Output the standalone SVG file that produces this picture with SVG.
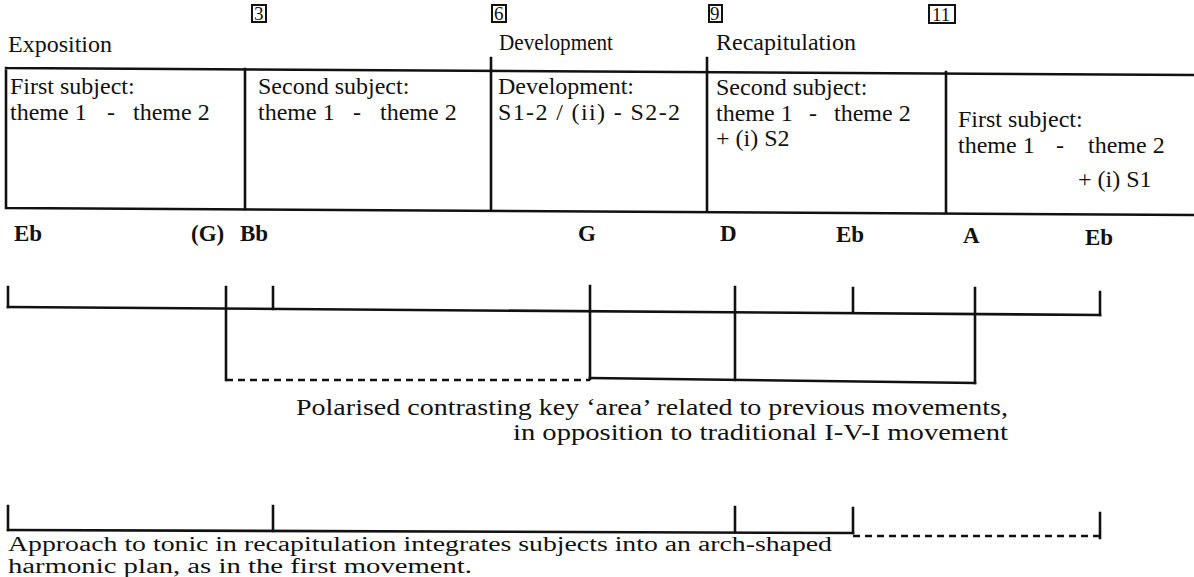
<svg xmlns="http://www.w3.org/2000/svg" width="1194" height="577" viewBox="0 0 1194 577">
  <style>
    .t { font-family: "Liberation Serif", "Times New Roman", serif; font-size: 24px; fill: #111; }
    .h { font-family: "Liberation Serif", "Times New Roman", serif; font-size: 24px; fill: #111; }
    .k { font-family: "Liberation Serif", "Times New Roman", serif; font-size: 23px; font-weight: bold; fill: #111; }
    .n { font-family: "Liberation Serif", "Times New Roman", serif; font-size: 19px; fill: #111; }
    .c { font-family: "Liberation Serif", "Times New Roman", serif; font-size: 23px; fill: #111; }
    .c2 { font-family: "Liberation Serif", "Times New Roman", serif; font-size: 20px; fill: #111; }
    .ln { stroke: #111; stroke-width: 2.6; fill: none; stroke-linecap: square; }
    .dash { stroke: #111; stroke-width: 2.6; fill: none; stroke-dasharray: 7 5; }
    .nb { stroke: #111; stroke-width: 2; fill: none; }
  </style>

  <!-- bar numbers -->
  <g id="bar-numbers">
    <rect class="nb" x="252" y="5" width="14" height="17"/>
    <text class="n" x="254" y="20">3</text>
    <rect class="nb" x="492" y="5" width="14" height="17"/>
    <text class="n" x="494" y="20">6</text>
    <rect class="nb" x="709" y="5" width="13" height="17"/>
    <text class="n" x="710" y="20">9</text>
    <rect class="nb" x="929" y="5" width="26" height="18"/>
    <text class="n" x="932" y="21">11</text>
  </g>

  <!-- section headings -->
  <g id="sections">
    <text class="h" x="8" y="52">Exposition</text>
    <text class="h" x="499" y="50" textLength="114" lengthAdjust="spacingAndGlyphs">Development</text>
    <text class="h" x="716" y="50">Recapitulation</text>
    <path class="ln" d="M491 58 V68 M707 58 V69"/>
  </g>

  <!-- form boxes -->
  <g id="form-boxes">
    <path class="ln" d="M6 68 L1194 75 M6 68 V208 M6 208 L1194 215"/>
    <path class="ln" d="M245 69 V209 M491 70 V210 M707 71 V211 M946 72 V213"/>
  </g>

  <g id="box-exposition-first">
    <text class="t" x="10" y="94">First subject:</text>
    <text class="t" x="10" y="120">theme 1</text>
    <text class="t" x="107" y="120">-</text>
    <text class="t" x="133" y="120">theme 2</text>
  </g>
  <g id="box-exposition-second">
    <text class="t" x="258" y="94">Second subject:</text>
    <text class="t" x="258" y="120">theme 1</text>
    <text class="t" x="353" y="120">-</text>
    <text class="t" x="380" y="120">theme 2</text>
  </g>
  <g id="box-development">
    <text class="t" x="498" y="94">Development:</text>
    <text class="t" x="498" y="120" textLength="182" lengthAdjust="spacing">S1-2 / (ii) - S2-2</text>
  </g>
  <g id="box-recap-second">
    <text class="t" x="716" y="95">Second subject:</text>
    <text class="t" x="716" y="121">theme 1</text>
    <text class="t" x="809" y="121">-</text>
    <text class="t" x="834" y="121">theme 2</text>
    <text class="t" x="716" y="146">+ (i) S2</text>
  </g>
  <g id="box-recap-first">
    <text class="t" x="958" y="127">First subject:</text>
    <text class="t" x="958" y="153">theme 1</text>
    <text class="t" x="1056" y="153">-</text>
    <text class="t" x="1088" y="153">theme 2</text>
    <text class="t" x="1078" y="187">+ (i) S1</text>
  </g>

  <!-- keys -->
  <g id="keys">
    <text class="k" x="14" y="241">Eb</text>
    <text class="k" x="191" y="241" font-weight="normal">(G)</text>
    <text class="k" x="240" y="241">Bb</text>
    <text class="k" x="578" y="241">G</text>
    <text class="k" x="720" y="241">D</text>
    <text class="k" x="836" y="242">Eb</text>
    <text class="k" x="963" y="243">A</text>
    <text class="k" x="1085" y="245">Eb</text>
  </g>

  <!-- tonal brackets -->
  <g id="connectors">
    <!-- upper tonal line with key ticks -->
    <path class="ln" d="M8 307 L1100 315"/>
    <path class="ln" d="M8 287 V307 M273 287 V309 M853 288 V312 M1100 292 V315"/>
    <!-- polarised area bracket -->
    <path class="ln" d="M226 287 V380 M590 286 V379 M735 287 V380 M975 288 V383"/>
    <path class="dash" d="M226 380 H590"/>
    <path class="ln" d="M590 378 L975 383"/>
    <!-- arch bracket -->
    <path class="ln" d="M8 506 V530 M273 506 V531 M735 507 V532 M853 508 V533 M1100 513 V538"/>
    <path class="ln" d="M8 530 L853 533"/>
    <path class="dash" d="M853 536 H1100"/>
  </g>

  <!-- captions -->
  <g id="captions">
    <text class="c" x="1008" y="415" text-anchor="end" textLength="712" lengthAdjust="spacingAndGlyphs">Polarised contrasting key ‘area’ related to previous movements,</text>
    <text class="c" x="1008" y="440" text-anchor="end" textLength="495" lengthAdjust="spacingAndGlyphs">in opposition to traditional I-V-I movement</text>
    <text class="c2" x="8" y="551" textLength="824" lengthAdjust="spacingAndGlyphs">Approach to tonic in recapitulation integrates subjects into an arch-shaped</text>
    <text class="c2" x="8" y="573" textLength="464" lengthAdjust="spacingAndGlyphs">harmonic plan, as in the first movement.</text>
  </g>
</svg>
